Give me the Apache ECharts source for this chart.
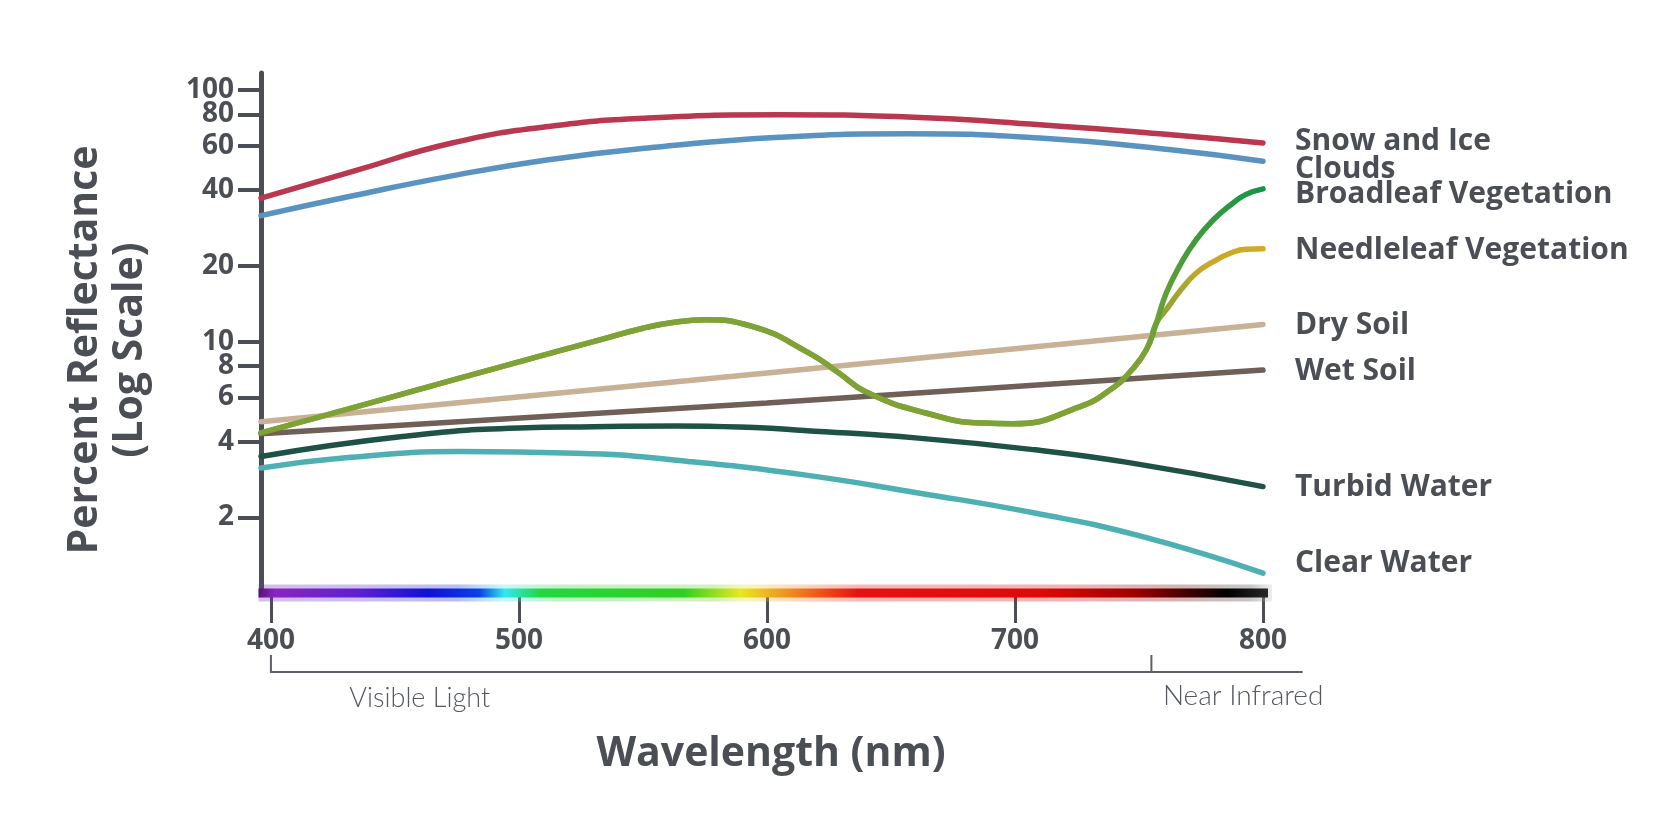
<!DOCTYPE html>
<html lang="en">
<head>
  <meta charset="UTF-8">
  <title>Spectral reflectance</title>
  <script src="https://cdn.jsdelivr.net/npm/echarts@6.0.0/dist/echarts.min.js"></script>
  <style>
    html,body{margin:0;padding:0;background:#fff;}
    #main{width:1680px;height:825px;}
  </style>
</head>
<body>
  <div id="main"></div>
  <script>
    // values: [wavelength nm, percent reflectance]
    var snowIce = [[396,37.2],[433,47.5],[473,61.6],[512,71.7],[552,77.4],[605,79.8],[657,78.2],[710,72.9],[763,66.5],[800,61.6]];
    var clouds = [[396,31.7],[433,38.0],[473,45.6],[512,52.9],[552,58.9],[605,64.9],[657,67.1],[710,64.5],[763,57.9],[800,52.1]];
    // vegetation shares one curve through the visible range
    var vegCommon = [[396,4.33],[420,5.03],[450,6.07],[500,8.31],[530,10.0],[550,11.3],[562,11.9],[575,12.2],[594,11.5],[617,9.0],[629,7.5],[640,6.3],[664,5.2],[687,4.74],[699,4.71],[726,5.5],[740,6.6],[746,7.5],[753,9.3],[757,11.85]];
    var broadleafTail = [[761,15.6],[767,20.5],[773,25.4],[780,30.5],[787,35.0],[793,38.4],[800,40.5]];
    var needleleafTail = [[761,13.4],[767,16.1],[773,18.7],[780,20.8],[787,22.5],[793,23.3],[800,23.4]];
    var drySoil = [[396,4.8],[600,7.5],[800,11.7]];
    var wetSoil = [[396,4.3],[600,5.7],[800,7.7]];
    var turbidWater = [[396,3.49],[453,4.19],[500,4.53],[530,4.58],[563,4.62],[595,4.55],[615,4.43],[661,4.13],[708,3.71],[746,3.3],[800,2.65]];
    var clearWater = [[396,3.14],[430,3.45],[476,3.65],[523,3.6],[569,3.33],[615,2.95],[661,2.5],[708,2.08],[750,1.69],[800,1.2]];
    // spectrum strip along the bottom of the plot
    var spectrumBar = [[395,1],[804,1]];

    var xTicks = [400,500,600,700,800];
    var yTicks = [2,4,6,8,10,20,40,60,80,100];
    var yRange = [1,117];
    // bracket under the axis: start, visible/NIR boundary, end
    var bandEdges = [400,755,816];
    var bandNames = ['Visible Light','Near Infrared'];
    var bandLabelAt = [460,792];

    var FONT = '"Open Sans", "DejaVu Sans", sans-serif';
    var INK = '#4b4f55';
    var OLIVE = '#7fa236';

    // y axis is logarithmic: plot log10 of each reading
    function lg(v){ return Math.log(v) / Math.LN10; }
    function toLog(arr){ return arr.map(function(p){ return [p[0], lg(p[1])]; }); }

    function grad(stops){
      return new echarts.graphic.LinearGradient(0,0,1,0,stops.map(function(s){return {offset:s[0],color:s[1]};}));
    }
    function curve(name, data, color, dy, z){
      return {
        name: name, type: 'line', data: toLog(data), smooth: 0.5, symbol: 'none', z: z || 3,
        lineStyle: {width: 5.5, color: color, cap: 'round'},
        endLabel: {show: true, formatter: '{a}', distance: 32, offset: [0, dy],
          color: INK, fontSize: 30, fontWeight: 'bold', fontFamily: FONT}
      };
    }
    // the 80 and 100 labels sit too close for one axis (ECharts hides one of them),
    // so the top tick goes on a twin axis with the same scale
    function yAxisFor(ticks, showLine){
      var vals = ticks.map(lg);
      return {
        type: 'value', min: lg(yRange[0]), max: lg(yRange[1]), position: 'left',
        axisLine: {show: showLine, onZero: false, lineStyle: {color: INK, width: 5}},
        splitLine: {show: false},
        axisTick: {show: true, length: 23, customValues: vals, lineStyle: {color: INK, width: 4}},
        axisLabel: {customValues: vals, margin: 27, color: INK, fontSize: 28, fontWeight: 'bold', fontFamily: FONT,
          showMinLabel: true, showMaxLabel: true,
          formatter: function(v){ return Math.round(Math.pow(10, v)); }}
      };
    }

    var mainY = yAxisFor(yTicks.slice(0, -1), true);
    mainY.name = 'Percent Reflectance\n(Log Scale)';
    mainY.nameLocation = 'middle';
    mainY.nameRotate = 90;
    mainY.nameGap = 108;
    mainY.nameTextStyle = {color: INK, fontSize: 41, fontWeight: 'bold', fontFamily: FONT, lineHeight: 45, padding: [0,34,0,0]};

    var myChart = echarts.init(document.getElementById('main'));
    var option = {
      animation: false,
      grid: {left: 261, right: 417, top: 73, bottom: 232},
      xAxis: {
        type: 'value', min: 396, max: 800,
        axisLine: {show: false},
        splitLine: {show: false},
        axisTick: {show: true, length: 30, customValues: xTicks, lineStyle: {color: INK, width: 3}},
        axisLabel: {customValues: xTicks, margin: 34, color: INK, fontSize: 28, fontWeight: 'bold', fontFamily: FONT,
          showMinLabel: true, showMaxLabel: true},
        name: 'Wavelength (nm)', nameLocation: 'middle', nameGap: 141,
        nameTextStyle: {color: INK, fontSize: 41, fontWeight: 'bold', fontFamily: FONT, padding: [0,0,0,18]}
      },
      yAxis: [mainY, yAxisFor(yTicks.slice(-1), false)],
      series: [
        // soft glow + core of the colour strip
        {type: 'line', data: toLog(spectrumBar), symbol: 'none', clip: false, silent: true, z: 4,
          lineStyle: {width: 17, opacity: 0.3, color: grad([[0,'#7a20a8'],[0.1,'#5a20d0'],[0.2,'#1020d8'],[0.245,'#40e0f0'],[0.3,'#30d040'],[0.45,'#60d020'],[0.48,'#e8e020'],[0.53,'#f08020'],[0.59,'#e81010'],[0.8,'#d00000'],[0.9,'#700000'],[0.97,'#404040'],[1,'#ffffff']])}},
        {type: 'line', data: toLog(spectrumBar), symbol: 'none', clip: false, silent: true, z: 5,
          lineStyle: {width: 9, color: grad([[0,'#4a0a60'],[0.02,'#8a24c0'],[0.1,'#6020d0'],[0.17,'#1010d8'],[0.22,'#0a40e8'],[0.245,'#30e8f0'],[0.28,'#20d840'],[0.42,'#30d020'],[0.475,'#e8e820'],[0.53,'#f08020'],[0.59,'#e81010'],[0.77,'#e00808'],[0.86,'#a00000'],[0.95,'#000000'],[1,'#303030']])}},
        curve('Snow and Ice', snowIce, '#b9384f', -2),
        curve('Clouds', clouds, '#5a93c0', 8),
        curve('Needleleaf Vegetation', vegCommon.concat(needleleafTail),
          grad([[0,OLIVE],[0.885,OLIVE],[0.94,'#c9a82a'],[1,'#d6a923']]), 2, 3),
        curve('Broadleaf Vegetation', vegCommon.concat(broadleafTail),
          grad([[0,OLIVE],[0.875,OLIVE],[0.93,'#3f9a3a'],[1,'#14944a']]), 6, 4),
        curve('Dry Soil', drySoil, '#c9b195', 1),
        curve('Wet Soil', wetSoil, '#6f5f56', 1),
        curve('Turbid Water', turbidWater, '#1f5247', 1),
        curve('Clear Water', clearWater, '#4fb0b4', -10)
      ]
    };
    myChart.setOption(option);

    // visible / near-infrared bracket, placed from the axis scales
    var y0 = myChart.convertToPixel({yAxisIndex: 0}, lg(yRange[0]));
    var xs = bandEdges.map(function(v){ return myChart.convertToPixel({xAxisIndex: 0}, v); });
    var yb = y0 + 79;
    var lineStyle = {stroke: '#5d6166', lineWidth: 2, fill: null};
    myChart.setOption({
      graphic: [
        {type: 'polyline', shape: {points: [[xs[0], yb - 17], [xs[0], yb], [xs[2], yb]]}, style: lineStyle},
        {type: 'line', shape: {x1: xs[1], y1: yb - 17, x2: xs[1], y2: yb}, style: lineStyle},
        {type: 'text', x: myChart.convertToPixel({xAxisIndex: 0}, bandLabelAt[0]), y: y0 + 105,
          style: {text: bandNames[0], fill: '#55595e', font: '300 27px Lato, "Open Sans", sans-serif', align: 'center', verticalAlign: 'middle'}},
        {type: 'text', x: myChart.convertToPixel({xAxisIndex: 0}, bandLabelAt[1]), y: y0 + 103,
          style: {text: bandNames[1], fill: '#55595e', font: '300 28px Lato, "Open Sans", sans-serif', align: 'center', verticalAlign: 'middle'}}
      ]
    });
  </script>
</body>
</html>
